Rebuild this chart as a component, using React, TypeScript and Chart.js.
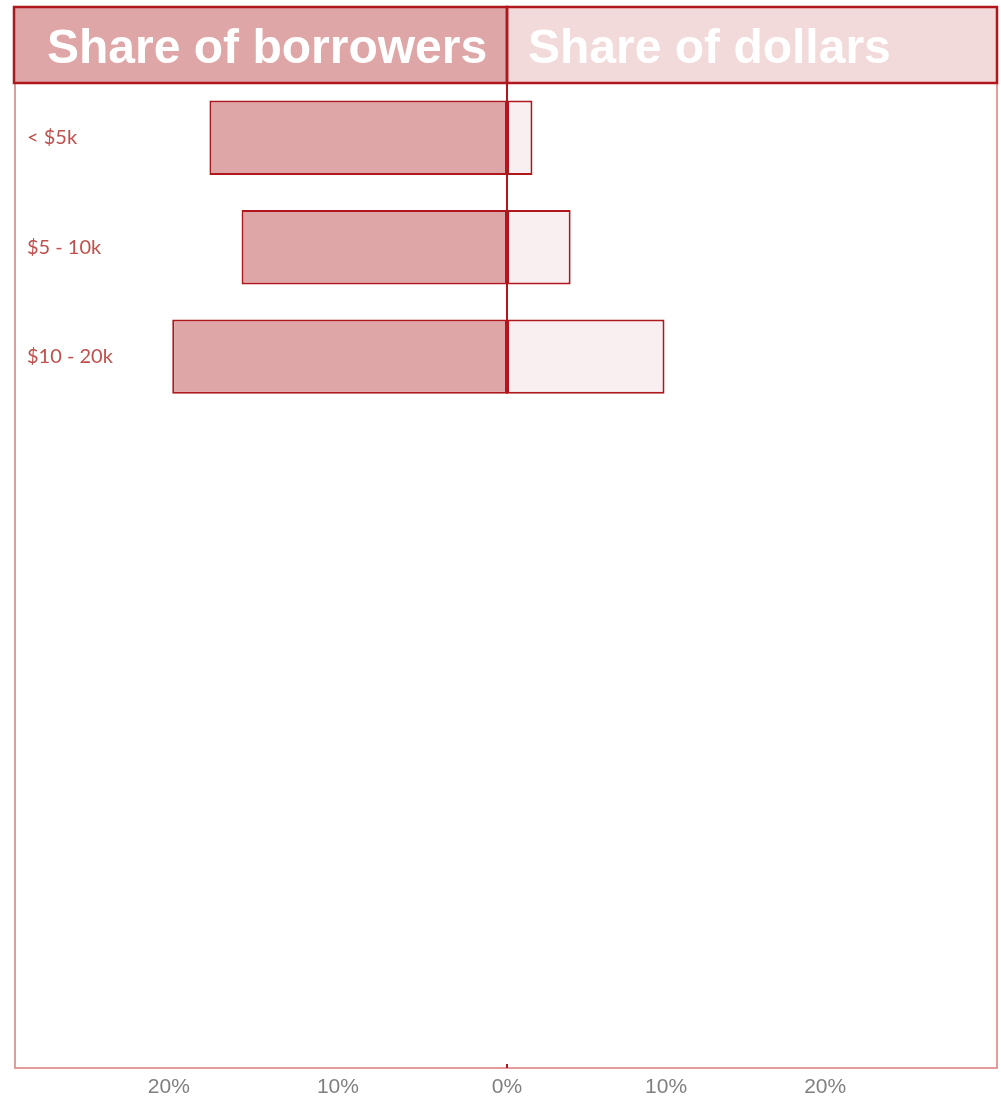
import React, { useEffect, useRef } from 'react';
import { Chart, registerables } from 'chart.js';

Chart.register(...registerables);

// ---- data ----
const categories = ['< $5k', '$5 - 10k', '$10 - 20k'];
const categorySlots = 9; // the axis has room for 9 bands, only 3 are filled
const shareOfBorrowers = [17.6, 15.7, 19.8];
const shareOfDollars = [1.6, 4.0, 9.9];
const headerLabels = ['Share of borrowers', 'Share of dollars'];
const leftTickValues = [10, 20]; // 0% is drawn once, by the right axis
const rightTickValues = [0, 10, 20];
const leftAxisMax = 29.1;
const rightAxisMax = 30.8;

// ---- styles ----
const DARK_RED = '#b0171c';
const LEFT_FILL = '#dea6a7';
const RIGHT_HEADER_FILL = '#f2d9da';
const RIGHT_BAR_FILL = '#f9eff0';
const FRAME = '#e39b9c';
const LABEL_RED = '#c0504d';
const TICK_GREY = '#808080';

const decorPlugin = {
  id: 'decor',
  beforeDatasetsDraw(chart: any) {
    const { ctx, chartArea: a } = chart;
    ctx.save();
    ctx.strokeStyle = FRAME;
    ctx.lineWidth = 2;
    ctx.strokeRect(a.left, a.top, a.right - a.left, a.bottom - a.top);
    ctx.restore();
  },
  afterDatasetsDraw(chart: any) {
    const { ctx, chartArea: a } = chart;
    const x0 = chart.scales.xR.getPixelForValue(0);
    const meta = chart.getDatasetMeta(0);
    const last = meta.data[meta.data.length - 1];
    const p = last.getProps(['y', 'height'], true);
    const yEnd = p.y + p.height / 2;
    ctx.save();
    ctx.strokeStyle = DARK_RED;
    ctx.lineWidth = 2;
    ctx.beginPath();
    ctx.moveTo(x0, a.top);
    ctx.lineTo(x0, yEnd);
    ctx.moveTo(x0, a.bottom - 4);
    ctx.lineTo(x0, a.bottom);
    ctx.stroke();

    // header boxes
    const top = 7;
    const left = a.left - 1;
    const h = a.top - top;
    ctx.fillStyle = LEFT_FILL;
    ctx.fillRect(left, top, x0 - left, h);
    ctx.fillStyle = RIGHT_HEADER_FILL;
    ctx.fillRect(x0, top, a.right - x0, h);
    ctx.strokeStyle = DARK_RED;
    ctx.lineWidth = 2.5;
    ctx.strokeRect(left, top, x0 - left, h);
    ctx.strokeRect(x0, top, a.right - x0, h);

    ctx.fillStyle = '#ffffff';
    ctx.font = 'bold 48px "Liberation Sans", Arial, sans-serif';
    ctx.textBaseline = 'alphabetic';
    ctx.textAlign = 'left';
    ctx.fillText(headerLabels[0], left + 33, top + 56);
    ctx.fillText(headerLabels[1], x0 + 21, top + 56);
    ctx.restore();
  },
};

const noPadding = (s: any) => {
  s.paddingLeft = 0;
  s.paddingRight = 0;
  s.paddingTop = 0;
  s.paddingBottom = 0;
};

export default function App() {
  const ref = useRef<HTMLCanvasElement | null>(null);

  useEffect(() => {
    if (!ref.current) return;
    const labels = [...categories];
    while (labels.length < categorySlots) labels.push('');

    const xTicks = {
      color: TICK_GREY,
      font: { family: '"Liberation Sans", Arial, sans-serif', size: 21, lineHeight: 1 },
      padding: 9,
      maxRotation: 0,
      autoSkip: false,
      callback: (v: any) => v + '%',
    };
    const xFit = (s: any) => {
      s.height = 27;
      noPadding(s);
    };

    const chart = new Chart(ref.current, {
      type: 'bar',
      data: {
        labels,
        datasets: [
          {
            label: headerLabels[0],
            data: shareOfBorrowers,
            xAxisID: 'xL',
            backgroundColor: LEFT_FILL,
            borderColor: DARK_RED,
            borderWidth: 2,
            borderSkipped: false,
            grouped: false,
            barPercentage: 0.68,
            categoryPercentage: 1,
          } as any,
          {
            label: headerLabels[1],
            data: shareOfDollars,
            xAxisID: 'xR',
            backgroundColor: RIGHT_BAR_FILL,
            borderColor: DARK_RED,
            borderWidth: 2,
            borderSkipped: false,
            grouped: false,
            barPercentage: 0.68,
            categoryPercentage: 1,
          } as any,
        ],
      },
      options: {
        indexAxis: 'y',
        animation: false,
        responsive: false,
        layout: { padding: { left: 15, right: 4, top: 83, bottom: 1 }, autoPadding: false } as any,
        plugins: { legend: { display: false }, tooltip: { enabled: false } },
        scales: {
          y: {
            type: 'category',
            grid: { display: false, drawTicks: false },
            border: { display: false },
            afterFit: (s: any) => {
              s.width = 0;
              noPadding(s);
            },
            ticks: {
              mirror: true,
              padding: 12,
              color: LABEL_RED,
              font: { family: 'Lato, "Open Sans", sans-serif', size: 20 },
            },
          } as any,
          xL: {
            type: 'linear',
            axis: 'x',
            position: 'bottom',
            stack: 'x',
            stackWeight: 492,
            reverse: true,
            min: 0,
            max: leftAxisMax,
            grid: { display: false, drawTicks: false },
            border: { display: false },
            afterFit: xFit,
            afterBuildTicks: (s: any) => {
              s.ticks = leftTickValues.map((v) => ({ value: v }));
            },
            ticks: xTicks,
          } as any,
          xR: {
            type: 'linear',
            axis: 'x',
            position: 'bottom',
            stack: 'x',
            stackWeight: 490,
            min: 0,
            max: rightAxisMax,
            grid: { display: false, drawTicks: false },
            border: { display: false },
            afterFit: xFit,
            afterBuildTicks: (s: any) => {
              s.ticks = rightTickValues.map((v) => ({ value: v }));
            },
            ticks: xTicks,
          } as any,
        },
      },
      plugins: [decorPlugin],
    });
    return () => chart.destroy();
  }, []);

  return (
    <div style={{ position: 'fixed', left: 0, top: 0, width: 1001, height: 1096, background: '#fff' }}>
      <canvas ref={ref} width={1001} height={1096} style={{ display: 'block' }} />
    </div>
  );
}
